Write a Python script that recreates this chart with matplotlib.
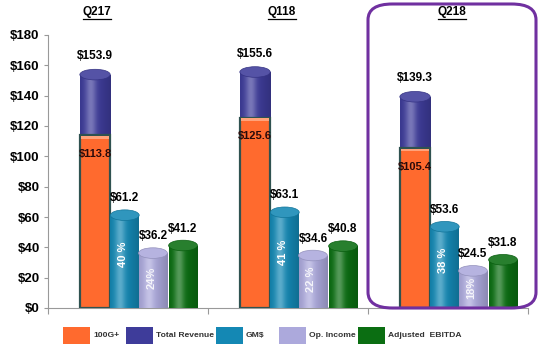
import matplotlib
matplotlib.use("Agg")
import matplotlib.pyplot as plt
import matplotlib.colors as mcolors
from matplotlib.patches import Rectangle, Ellipse, FancyBboxPatch
from matplotlib.lines import Line2D
import numpy as np

plt.rcParams["font.family"] = ["Liberation Sans", "DejaVu Sans"]
plt.rcParams["font.weight"] = "bold"

# ---- data ----
quarters = ["Q217", "Q118", "Q218"]
rev_100g = [113.8, 125.6, 105.4]
total_revenue = [153.9, 155.6, 139.3]
gm = [61.2, 63.1, 53.6]
op_income = [36.2, 34.6, 24.5]
adj_ebitda = [41.2, 40.8, 31.8]
gm_pct = ["40 %", "41 %", "38 %"]
op_pct = ["24%", "22 %", "18%"]
yticks = [0, 20, 40, 60, 80, 100, 120, 140, 160, 180]
ytick_labels = ["$0", "$20", "$40", "$60", "$80", "$100", "$120", "$140", "$160", "$180"]
legend_labels = ["100G+", "Total Revenue", "GM$", "Op. Income", "Adjusted  EBITDA"]

# colours
C_ORANGE = "#FF6A2E"
C_BLUE = "#3E3C9A"
C_TEAL = "#1488B4"
C_LAV = "#ACA9DC"
C_GREEN = "#0B6E12"
C_PURPLE = "#7030A0"

W, H = 542, 351
fig = plt.figure(figsize=(W / 100, H / 100), dpi=100)
ax = fig.add_axes([48 / W, 43 / H, 480 / W, 273 / H])

EH = 7.0  # ellipse height in data units


def grad_img(color, n=80):
    rgb = np.array(mcolors.to_rgb(color))
    t = np.linspace(0, 1, n)
    hi = 0.30 * np.exp(-((t - 0.35) / 0.18) ** 2)
    dk = 0.35 * np.abs(t - 0.35) ** 1.4
    col = rgb + (1 - rgb) * hi[:, None]
    col = col * (1 - dk[:, None])
    return np.clip(col, 0, 1)[None, :, :]


def cylinder(xc, w, top, color, z=2):
    rgb = np.array(mcolors.to_rgb(color))
    ax.add_patch(Ellipse((xc, 0), w, EH, facecolor=rgb * 0.8, edgecolor="none", zorder=z))
    rect = Rectangle((xc - w / 2, 0), w, top, facecolor="none", edgecolor="none", zorder=z)
    ax.add_patch(rect)
    im = ax.imshow(grad_img(color), extent=[xc - w / 2, xc + w / 2, 0, top],
                   aspect="auto", zorder=z + 0.1, interpolation="bilinear")
    im.set_clip_path(rect)
    topc = rgb + (1 - rgb) * 0.12
    ax.add_patch(Ellipse((xc, top), w, EH, facecolor=topc, edgecolor=rgb * 0.85,
                         linewidth=0.5, zorder=z + 0.2))


x = np.arange(len(quarters))
off_stack, off_gm, off_op, off_eb = 0.294, 0.48, 0.656, 0.844
w_stack, w_cyl = 0.19, 0.18

for i in range(len(quarters)):
    xs = x[i] + off_stack
    cylinder(xs, w_stack, total_revenue[i], C_BLUE, z=2)
    ax.add_patch(Rectangle((xs - w_stack / 2, 0), w_stack, rev_100g[i], facecolor=C_ORANGE,
                           edgecolor="#2F5250", linewidth=1.6, zorder=3))
    ax.add_patch(Rectangle((xs - w_stack / 2 + 0.01, rev_100g[i] - 2.2), w_stack - 0.02, 1.6,
                           facecolor="#FFA27A", edgecolor="none", zorder=3.1))
    ax.annotate(f"${total_revenue[i]:.1f}", (xs, total_revenue[i] + EH / 2), xytext=(0, 5),
                textcoords="offset points", ha="center", va="bottom", fontsize=8.5, zorder=6)
    ax.annotate(f"${rev_100g[i]:.1f}", (xs, rev_100g[i]), xytext=(0, -10),
                textcoords="offset points", ha="center", va="top", fontsize=8,
                color="#2a0a0a", zorder=6)

    for off, vals, col in [(off_gm, gm, C_TEAL), (off_op, op_income, C_LAV),
                           (off_eb, adj_ebitda, C_GREEN)]:
        xc = x[i] + off
        cylinder(xc, w_cyl, vals[i], col, z=4)
        ax.annotate(f"${vals[i]:.1f}", (xc, vals[i] + EH / 2), xytext=(0, 4),
                    textcoords="offset points", ha="center", va="bottom", fontsize=8.5, zorder=6)

    ax.text(x[i] + off_gm - 0.01, gm[i] * 0.58, gm_pct[i], rotation=90, ha="center",
            va="center", color="white", fontsize=8, zorder=6)
    ax.text(x[i] + off_op - 0.01, op_income[i] * 0.55, op_pct[i], rotation=90, ha="center",
            va="center", color="white", alpha=0.85, fontsize=8, zorder=6)

ax.set_xlim(0, 3)
ax.set_ylim(0, 180)
ax.set_yticks(yticks)
ax.set_yticklabels(ytick_labels, fontsize=9.5, fontweight="bold")
ax.set_xticks([0, 1, 2, 3])
ax.set_xticklabels([])
ax.tick_params(axis="x", direction="out", length=4, color="#999999")
ax.tick_params(axis="y", direction="out", length=3, color="#999999", pad=3)
for s in ["top", "right"]:
    ax.spines[s].set_visible(False)
for s in ["left", "bottom"]:
    ax.spines[s].set_color("#999999")

# quarter titles (underlined)
title_x = [97, 282, 452]
titles = []
for q, px in zip(quarters, title_x):
    titles.append(fig.text(px / W, 1 - 12 / H, q, ha="center", va="center",
                           fontsize=8.5, fontweight="bold"))

# purple highlight box around latest quarter
fig.add_artist(FancyBboxPatch((368 / W, 43 / H), 168 / W, 304 / H,
                              boxstyle="round,pad=0,rounding_size=0.045",
                              transform=fig.transFigure, facecolor="none",
                              edgecolor=C_PURPLE, linewidth=2.2, zorder=10))

# legend
leg_colors = [C_ORANGE, C_BLUE, C_TEAL, C_LAV, C_GREEN]
leg_x = [63, 126, 216, 279, 358]
for lx, col, lab in zip(leg_x, leg_colors, legend_labels):
    fig.add_artist(Rectangle((lx / W, (351 - 344) / H), 27 / W, 17 / H,
                             transform=fig.transFigure, facecolor=col, edgecolor="none"))
    fig.text((lx + 30) / W, (351 - 335.5) / H, lab, ha="left", va="center",
             fontsize=6.1, fontweight="bold", color="#333333")

fig.canvas.draw()
r = fig.canvas.get_renderer()
for t in titles:
    bb = t.get_window_extent(renderer=r)
    yline = (bb.y0 - 1) / H
    fig.add_artist(Line2D([bb.x0 / W, bb.x1 / W], [yline, yline], transform=fig.transFigure,
                          color="black", linewidth=0.9))

fig.savefig("out.png", dpi=100)
